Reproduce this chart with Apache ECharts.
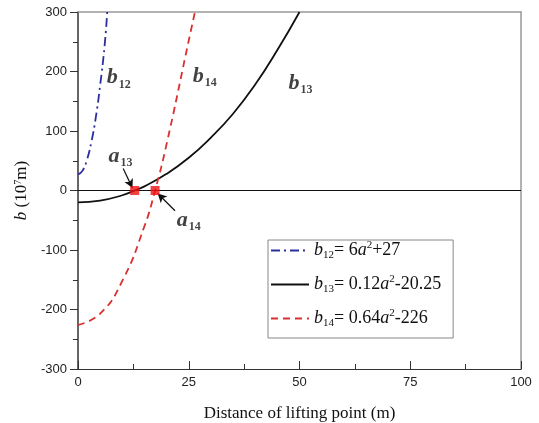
<!DOCTYPE html>
<html>
<head>
<meta charset="utf-8">
<script src="https://cdn.jsdelivr.net/npm/echarts@6/dist/echarts.min.js"></script>
<style>
  html, body { margin: 0; padding: 0; background: #fff; }
  #chart { width: 539px; height: 423px; }
</style>
</head>
<body>
<div id="chart"></div>
<script>
// values: a (m) -> b (10^7 m)
var b12A = [0, 1, 2, 3, 4, 5, 6, 6.6];
var b12V = [27, 33, 51, 81, 122, 177, 243, 300];
var b13A = [0, 5, 10, 12.8, 15, 20, 25, 30, 35, 40, 45, 50];
var b13V = [-20, -17, -8, 0, 7, 28, 55, 89, 129, 178, 236, 300];
var b14A = [0, 5, 10, 15, 17.4, 20, 25, 26.4];
var b14V = [-226, -207, -152, -60, 0, 78, 252, 300];
var rootA = [12.8, 17.4];   // a13, a14
var xTicks = [0, 25, 50, 75, 100];

// text annotations placed in data space
var notes = [
    { a: 9.2,  b: 190, main: 'b', sub: '12' },
    { a: 28.6, b: 192, main: 'b', sub: '14' },
    { a: 50.2, b: 180, main: 'b', sub: '13' },
    { a: 9.6,  b: 58,  main: 'a', sub: '13' },
    { a: 25,   b: -50, main: 'a', sub: '14' }
];
var arrows = [
    [[10.2, 37], [12.3, 4]],
    [[21.9, -34], [18.0, -5]]
];

function zip(xs, ys) {
    var out = [];
    for (var i = 0; i < xs.length; i++) out.push([xs[i], ys[i]]);
    return out;
}

var formulas = {
    'b12': '{i|b}{sub|12}{n|= 6}{i|a}{sup|2}{n|+27}',
    'b13': '{i|b}{sub|13}{n|= 0.12}{i|a}{sup|2}{n|-20.25}',
    'b14': '{i|b}{sub|14}{n|= 0.64}{i|a}{sup|2}{n|-226}'
};

var serif = '"Liberation Serif", "DejaVu Serif", serif';
var sans = '"Liberation Sans", Arial, sans-serif';

var chart = echarts.init(document.getElementById('chart'));
var option = {
    animation: false,
    grid: { left: 78, right: 18, top: 12, bottom: 54, outerBoundsMode: 'none' },
    legend: {
        data: ['b12', 'b13', 'b14'],
        orient: 'vertical',
        left: 268,
        top: 240,
        padding: [0, 12, 9, 2],
        itemGap: 13,
        itemWidth: 38,
        itemHeight: 14,
        borderColor: '#888',
        borderWidth: 1,
        itemStyle: { opacity: 0 },
        formatter: function (name) { return formulas[name]; },
        textStyle: {
            fontFamily: serif,
            fontSize: 18,
            color: '#111',
            rich: {
                i: { fontFamily: serif, fontStyle: 'italic', fontSize: 18, color: '#111', height: 16 },
                n: { fontFamily: serif, fontSize: 18, color: '#111', height: 16 },
                sub: { fontFamily: serif, fontSize: 11, color: '#111', verticalAlign: 'bottom', height: 16, padding: [10, 0, 0, 0] },
                sup: { fontFamily: serif, fontSize: 11, color: '#111', verticalAlign: 'top', height: 16, padding: [0, 0, 8, 0] }
            }
        }
    },
    xAxis: [{
        type: 'value',
        min: 0, max: 100, interval: 25,
        name: 'Distance of lifting point (m)',
        nameLocation: 'middle',
        nameGap: 36,
        nameTextStyle: { fontFamily: serif, fontSize: 17, color: '#111' },
        axisLine: { onZero: false, lineStyle: { color: '#333', width: 1.2 } },
        axisTick: { inside: true, length: 8, lineStyle: { color: '#333' } },
        minorTick: { show: true, splitNumber: 2, length: 5, lineStyle: { color: '#333' } },
        axisLabel: { fontFamily: sans, fontSize: 13, color: '#222', margin: 7 },
        splitLine: { show: false }
    }, {
        type: 'value', position: 'top',
        min: 0, max: 100,
        axisLine: { show: true, onZero: false, lineStyle: { color: '#999', width: 1.5 } },
        axisTick: { show: false }, axisLabel: { show: false }, splitLine: { show: false }
    }],
    yAxis: [{
        type: 'value',
        min: -300, max: 300, interval: 100,
        name: '{i|b} (10{sup|7}m)',
        nameLocation: 'middle',
        nameGap: 45,
        nameRotate: 90,
        nameTextStyle: {
            fontFamily: serif, fontSize: 17, color: '#111',
            rich: {
                i: { fontFamily: serif, fontStyle: 'italic', fontSize: 17, color: '#111' },
                sup: { fontFamily: serif, fontSize: 10, color: '#111', verticalAlign: 'top', padding: [0, 0, 6, 0] }
            }
        },
        axisLine: { onZero: false, lineStyle: { color: '#333', width: 1.5 } },
        axisTick: { inside: false, length: 8, lineStyle: { color: '#333' } },
        minorTick: { show: true, splitNumber: 2, length: 5, lineStyle: { color: '#333' } },
        axisLabel: { fontFamily: sans, fontSize: 13, color: '#222', margin: 11 },
        splitLine: { show: false }
    }, {
        type: 'value', position: 'right',
        min: -300, max: 300,
        axisLine: { show: true, onZero: false, lineStyle: { color: '#999', width: 1.5 } },
        axisTick: { show: false }, axisLabel: { show: false }, splitLine: { show: false }
    }],
    series: [
        {
            name: 'b12', type: 'line', smooth: true, symbol: 'none',
            data: zip(b12A, b12V),
            itemStyle: { color: '#2b2f9c' },
            lineStyle: { color: '#2b2f9c', width: 1.8, type: [9, 4, 2, 4] }
        },
        {
            name: 'b13', type: 'line', smooth: true, symbol: 'none',
            data: zip(b13A, b13V),
            itemStyle: { color: '#111' },
            lineStyle: { color: '#111', width: 1.8, type: 'solid' },
            markLine: {
                silent: true, symbol: 'none',
                label: { show: false },
                lineStyle: { color: '#111', width: 1.2, type: 'solid' },
                data: [{ yAxis: 0 }]
            }
        },
        {
            name: 'b14', type: 'line', smooth: true, symbol: 'none',
            data: zip(b14A, b14V),
            itemStyle: { color: '#d9302f' },
            lineStyle: { color: '#d9302f', width: 1.8, type: [7, 5] }
        },
        {
            name: 'roots', type: 'scatter', symbol: 'rect', symbolSize: 9, z: 5,
            data: rootA.map(function (a) { return [a, 0]; }),
            itemStyle: { color: '#f01010' },
            markLine: {
                silent: true,
                symbol: ['none', 'arrow'],
                symbolSize: [7, 9],
                label: { show: false },
                lineStyle: { color: '#111', width: 1.2, type: 'solid' },
                data: arrows.map(function (p) {
                    return [{ coord: p[0] }, { coord: p[1] }];
                })
            }
        },
        {
            name: 'notes', type: 'scatter', symbolSize: 0, z: 6,
            data: notes.map(function (n) { return { value: [n.a, n.b], main: n.main, sub: n.sub }; }),
            label: {
                show: true, position: 'inside',
                formatter: function (p) {
                    return '{m|' + notes[p.dataIndex].main + '}{s|' + notes[p.dataIndex].sub + '}';
                },
                rich: {
                    m: { fontFamily: serif, fontStyle: 'italic', fontWeight: 'bold', fontSize: 22, color: '#111', height: 24 },
                    s: { fontFamily: serif, fontWeight: 'bold', fontSize: 12, color: '#111', verticalAlign: 'bottom', height: 24, padding: [14, 0, 0, 1] }
                }
            }
        }
    ]
};
chart.setOption(option);
</script>
</body>
</html>
